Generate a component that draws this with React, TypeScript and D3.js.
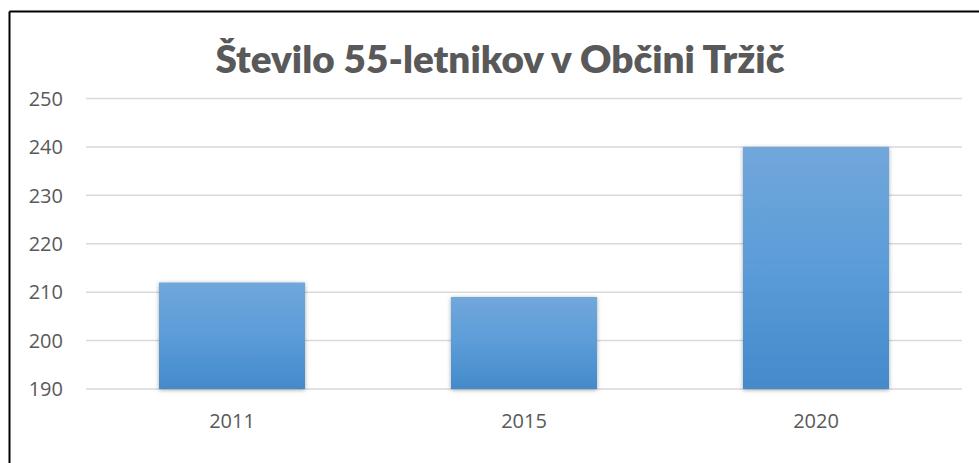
import React from "react";
import * as d3 from "d3";

const title = "Število 55-letnikov v Občini Tržič";
const categories = ["2011", "2015", "2020"];
const values = [212, 209, 240];
const yTicks = [190, 200, 210, 220, 230, 240, 250];

const W = 979;
const H = 463;
const M = { left: 86, right: 962, top: 98.5, bottom: 389 };

export default function App() {
  const x = d3.scaleBand<string>().domain(categories).range([M.left, M.right]).paddingInner(0.5).paddingOuter(0.25);
  const y = d3.scaleLinear().domain([190, 250]).range([M.bottom, M.top]);
  const font = "'Open Sans', 'Liberation Sans', sans-serif";
  return (
    <svg width={W} height={H} style={{ position: "absolute", left: 0, top: 0, background: "#fff" }}>
      <defs>
        <linearGradient id="barGrad" x1="0" y1="0" x2="0" y2="1">
          <stop offset="0" stopColor="#71a7db" />
          <stop offset="0.5" stopColor="#5b9cd8" />
          <stop offset="1" stopColor="#448acb" />
        </linearGradient>
        <filter id="shadow" x="-20%" y="-20%" width="140%" height="140%">
          <feDropShadow dx="0" dy="1" stdDeviation="2.2" floodColor="#000" floodOpacity="0.35" />
        </filter>
      </defs>
      <rect x={0} y={0} width={W} height={H} fill="#fff" />
      <line x1={9.5} y1={11.5} x2={W} y2={11.5} stroke="#000" strokeWidth={2} />
      <line x1={9.5} y1={11.5} x2={9.5} y2={H} stroke="#000" strokeWidth={2} />
      <text x={500} y={73} textAnchor="middle" fontFamily="Lato, 'Open Sans', sans-serif" fontWeight={800} fontSize={38} fill="#595959" textLength={569} lengthAdjust="spacingAndGlyphs">
        {title}
      </text>
      {yTicks.map((t) => (
        <g key={t}>
          <line x1={M.left} x2={M.right} y1={y(t)} y2={y(t)} stroke="#d9d9d9" strokeWidth={1.5} />
          <text x={63} y={y(t)} dy="0.36em" textAnchor="end" fontFamily={font} fontSize={20} fill="#595959">
            {t}
          </text>
        </g>
      ))}
      {categories.map((c, i) => (
        <g key={c}>
          <rect
            x={x(c)!}
            y={y(values[i])}
            width={x.bandwidth()}
            height={y(190) - y(values[i])}
            fill="url(#barGrad)"
            filter="url(#shadow)"
          />
          <text x={x(c)! + x.bandwidth() / 2} y={421} dy="0.36em" textAnchor="middle" fontFamily={font} fontSize={20} fill="#595959">
            {c}
          </text>
        </g>
      ))}
    </svg>
  );
}
